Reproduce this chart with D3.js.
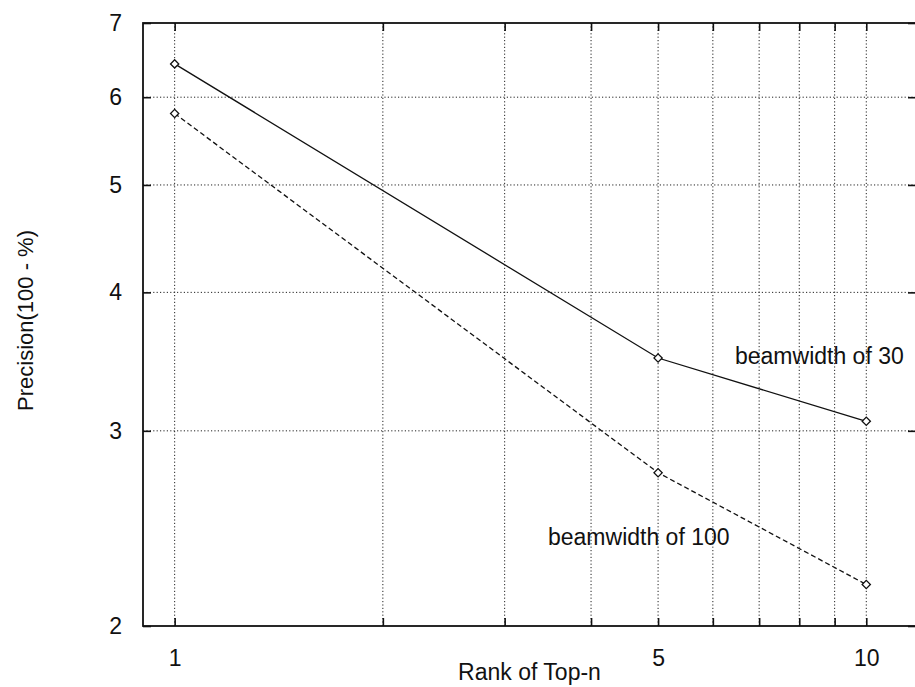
<!DOCTYPE html>
<html lang="en">
<head>
  <meta charset="UTF-8">
  <title>Precision vs Rank of Top-n</title>
  <script src="https://cdn.jsdelivr.net/npm/d3@7"></script>
  <style>
    body { margin: 0; background: white; }
    svg { display: block; font-family: "Liberation Sans", Arial, sans-serif; }
    .grid line { stroke: #222; stroke-width: 1; stroke-dasharray: 1.2, 2.2; }
  </style>
</head>
<body>
  <div id="chart"></div>
  <script>
    // data
    const ranks = [1, 5, 10]
    const beam30 = [6.43, 3.49, 3.06]
    const beam100 = [5.80, 2.75, 2.18]
    const xTicks = [1, 5, 10]
    const xGrid = [1, 2, 3, 4, 5, 6, 7, 8, 9, 10]
    const yTicks = [2, 3, 4, 5, 6, 7]

    const width = 915
    const height = 687
    const plotLeft = 143, plotRight = 916, plotTop = 23, plotBottom = 626

    const xScale = d3.scaleLog().domain([0.9, 11.8]).range([plotLeft, plotRight])
    const yScale = d3.scaleLog().domain([2, 7]).range([plotBottom, plotTop])

    const svg = d3.select("#chart").append("svg")
      .attr("width", width)
      .attr("height", height)

    // dotted grid
    const grid = svg.append("g").attr("class", "grid")
    grid.selectAll(".vx").data(xGrid).enter().append("line")
      .attr("x1", d => xScale(d)).attr("x2", d => xScale(d))
      .attr("y1", plotTop).attr("y2", plotBottom)
    grid.selectAll(".hy").data(yTicks.slice(1, -1)).enter().append("line")
      .attr("x1", plotLeft).attr("x2", plotRight)
      .attr("y1", d => yScale(d)).attr("y2", d => yScale(d))

    // axes with inner ticks
    const axisStyle = g => {
      g.select(".domain").remove()
      g.selectAll(".tick line").attr("stroke", "#111").attr("stroke-width", 1.6)
      g.selectAll(".tick text").attr("fill", "#111").style("font-size", "23px")
      g.attr("font-family", null)
    }

    svg.append("g")
      .attr("transform", `translate(0, ${plotBottom})`)
      .call(d3.axisBottom(xScale).tickValues(xGrid).tickSizeInner(-8).tickPadding(24)
        .tickFormat(d => xTicks.includes(d) ? d : ""))
      .call(axisStyle)

    svg.append("g")
      .attr("transform", `translate(0, ${plotTop})`)
      .call(d3.axisTop(xScale).tickValues(xGrid).tickSizeInner(-8).tickFormat(""))
      .call(axisStyle)

    svg.append("g")
      .attr("transform", `translate(${plotLeft}, 0)`)
      .call(d3.axisLeft(yScale).tickValues(yTicks).tickSizeInner(-8).tickPadding(21)
        .tickFormat(d3.format("d")))
      .call(axisStyle)

    svg.append("g")
      .attr("transform", `translate(${plotRight}, 0)`)
      .call(d3.axisRight(yScale).tickValues(yTicks).tickSizeInner(-8).tickFormat(""))
      .call(axisStyle)

    // frame
    svg.append("rect")
      .attr("x", plotLeft).attr("y", plotTop)
      .attr("width", plotRight - plotLeft).attr("height", plotBottom - plotTop)
      .attr("fill", "none").attr("stroke", "#111").attr("stroke-width", 1.8)

    // series
    const line = d3.line()
      .x((d, i) => xScale(ranks[i]))
      .y(d => yScale(d))

    const series = [
      { values: beam30, dash: null },
      { values: beam100, dash: "5,3" }
    ]

    series.forEach(s => {
      svg.append("path")
        .datum(s.values)
        .attr("d", line)
        .attr("fill", "none")
        .attr("stroke", "#111")
        .attr("stroke-width", 1.3)
        .attr("stroke-dasharray", s.dash)

      svg.selectAll(null).data(s.values).enter().append("path")
        .attr("d", d3.symbol(d3.symbolSquare, 34))
        .attr("transform", (d, i) => `translate(${xScale(ranks[i])}, ${yScale(d)}) rotate(45)`)
        .attr("fill", "white")
        .attr("stroke", "#111")
        .attr("stroke-width", 1.3)
    })

    // annotations
    svg.append("text")
      .attr("x", 735).attr("y", 364)
      .style("font-size", "23px").attr("fill", "#111")
      .text("beamwidth of 30")

    svg.append("text")
      .attr("x", 548).attr("y", 545)
      .style("font-size", "23px").attr("fill", "#111")
      .text("beamwidth of 100")

    // axis titles
    svg.append("text")
      .attr("x", (plotLeft + plotRight) / 2).attr("y", 680)
      .attr("text-anchor", "middle")
      .style("font-size", "23px").attr("fill", "#111")
      .text("Rank of Top-n")

    svg.append("text")
      .attr("transform", `translate(33, ${(plotTop + plotBottom) / 2 - 4}) rotate(-90)`)
      .attr("text-anchor", "middle")
      .style("font-size", "22px").attr("fill", "#111")
      .text("Precision(100 - %)")
  </script>
</body>
</html>
